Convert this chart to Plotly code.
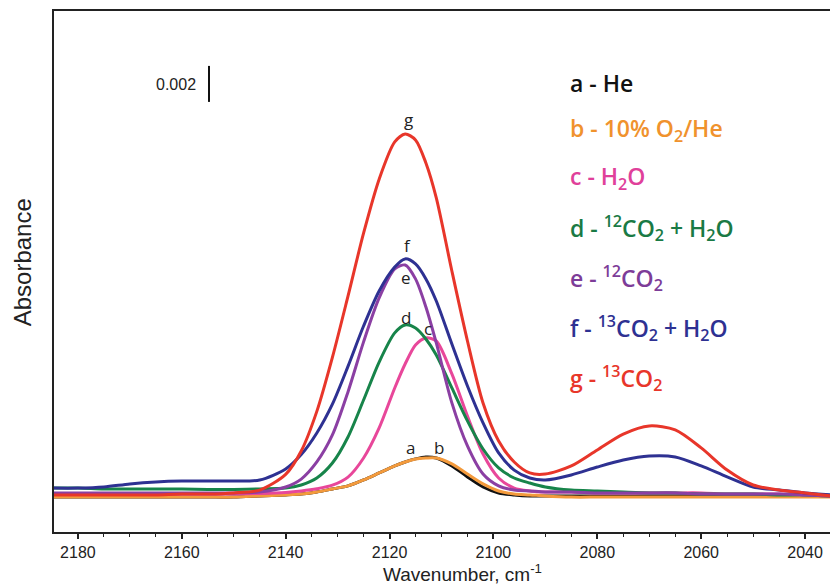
import plotly.graph_objects as go

# Wavenumber grid (cm^-1)
wavenumber = [2185, 2180, 2175, 2170, 2165, 2160, 2155, 2150, 2145, 2140, 2137, 2134, 2131,
              2128, 2125, 2122, 2119, 2117, 2115, 2113, 2111, 2108, 2105, 2102, 2099, 2096,
              2093, 2090, 2085, 2080, 2075, 2070, 2065, 2060, 2055, 2050, 2045, 2040, 2035]

# Absorbance values in milli-absorbance units (0.002 = 2.0)
a_he = [-0.06, -0.06, -0.06, -0.06, -0.06, -0.06, -0.06, -0.06, 0.0, 0.06, 0.11, 0.22, 0.39,
        0.56, 0.89, 1.28, 1.67, 1.89, 2.06, 2.17, 2.11, 1.67, 1.06, 0.5, 0.17, 0.06,
        0.0, 0.0, 0.0, 0.0, 0.0, 0.0, 0.0, 0.0, 0.0, 0.0, 0.0, 0.0, 0.0]
b_o2 = [-0.06, -0.06, -0.06, -0.06, -0.06, -0.06, -0.06, -0.06, 0.0, 0.06, 0.11, 0.22, 0.39,
        0.56, 0.89, 1.28, 1.67, 1.89, 2.06, 2.11, 2.11, 1.78, 1.22, 0.67, 0.28, 0.11,
        0.06, 0.0, -0.06, -0.06, -0.06, -0.06, -0.06, -0.06, -0.06, -0.06, -0.06, -0.06, -0.06]
c_h2o = [0.11, 0.11, 0.11, 0.11, 0.11, 0.11, 0.11, 0.11, 0.14, 0.2, 0.28, 0.4, 0.6,
         1.05, 2.11, 3.78, 6.0, 7.33, 8.39, 8.78, 8.61, 6.78, 4.44, 2.33, 1.0, 0.44,
         0.28, 0.22, 0.22, 0.17, 0.17, 0.17, 0.17, 0.17, 0.11, 0.11, 0.11, 0.06, 0.0]
d_12co2_h2o = [0.44, 0.44, 0.39, 0.39, 0.39, 0.39, 0.36, 0.36, 0.39, 0.44, 0.61, 1.0, 1.83,
               3.28, 5.33, 7.44, 9.06, 9.5, 9.33, 8.72, 7.83, 6.0, 4.17, 2.61, 1.56, 1.0,
               0.72, 0.5, 0.33, 0.28, 0.22, 0.17, 0.17, 0.11, 0.11, 0.11, 0.06, 0.06, 0.0]
e_12co2 = [0.17, 0.17, 0.17, 0.17, 0.17, 0.17, 0.17, 0.17, 0.22, 0.5, 0.94, 1.89, 3.39,
           5.78, 8.56, 11.0, 12.61, 12.83, 12.06, 10.5, 8.5, 5.17, 2.78, 1.22, 0.56, 0.33,
           0.28, 0.22, 0.22, 0.17, 0.17, 0.17, 0.17, 0.11, 0.11, 0.11, 0.11, 0.06, 0.0]
f_13co2_h2o = [0.44, 0.44, 0.5, 0.67, 0.78, 0.83, 0.83, 0.83, 0.89, 1.5, 2.3, 3.5, 5.1,
               7.2, 9.44, 11.39, 12.72, 13.17, 12.89, 12.06, 10.83, 8.44, 6.11, 4.06, 2.39, 1.44,
               1.0, 0.89, 1.17, 1.61, 2.0, 2.22, 2.17, 1.67, 1.06, 0.5, 0.33, 0.17, 0.06]
g_13co2 = [0.06, 0.06, 0.06, 0.06, 0.06, 0.11, 0.11, 0.17, 0.33, 1.2, 2.5, 4.7, 7.7,
           11.1, 14.6, 17.6, 19.67, 20.11, 19.78, 18.5, 16.56, 12.5, 8.61, 5.17, 3.06, 1.89,
           1.28, 1.22, 1.67, 2.56, 3.44, 3.89, 3.67, 2.67, 1.44, 0.61, 0.33, 0.17, 0.0]

series = [
    ("a", a_he, "#111111"),
    ("b", b_o2, "#F39A3C"),
    ("c", c_h2o, "#E8479A"),
    ("d", d_12co2_h2o, "#17844A"),
    ("e", e_12co2, "#8B3FA3"),
    ("f", f_13co2_h2o, "#2E3192"),
    ("g", g_13co2, "#E8362A"),
]

legend_texts = [
    ("a - He", "#111111"),
    ("b - 10% O<sub>2</sub>/He", "#F0922D"),
    ("c - H<sub>2</sub>O", "#E0409A"),
    ("d - <sup>12</sup>CO<sub>2</sub> + H<sub>2</sub>O", "#1A7A45"),
    ("e - <sup>12</sup>CO<sub>2</sub>", "#7D3C98"),
    ("f - <sup>13</sup>CO<sub>2</sub> + H<sub>2</sub>O", "#2E3192"),
    ("g - <sup>13</sup>CO<sub>2</sub>", "#E8362A"),
]

tick_vals = [2180, 2160, 2140, 2120, 2100, 2080, 2060, 2040]

fig = go.Figure()
for name, vals, col in series:
    fig.add_trace(go.Scatter(x=wavenumber, y=vals, mode="lines", name=name,
                             line=dict(color=col, width=3, shape="spline", smoothing=0.8),
                             showlegend=False, hoverinfo="skip"))

# curve letter labels
curve_labels = [("g", 2116.3, 20.9), ("f", 2116.5, 13.94), ("e", 2116.8, 12.11),
                ("d", 2116.8, 9.94), ("c", 2112.6, 9.33), ("a", 2115.9, 2.72), ("b", 2110.5, 2.72)]
for t, x, y in curve_labels:
    fig.add_annotation(x=x, y=y, text=t, showarrow=False, xref="x", yref="y",
                       font=dict(family="Open Sans", size=17, color="#222222"))

# legend texts
leg_y = [0.862, 0.772, 0.681, 0.583, 0.4875, 0.3916, 0.2956]
for (txt, col), yy in zip(legend_texts, leg_y):
    fig.add_annotation(x=0.663, y=yy, xref="paper", yref="paper", text=txt,
                       showarrow=False, xanchor="left", yanchor="middle",
                       font=dict(family="Open Sans", size=23, color=col, weight=600))

# scale bar 0.002
fig.add_shape(type="line", xref="x", yref="y", x0=2154.76, x1=2154.76, y0=21.89, y1=23.89,
              line=dict(color="#111111", width=2))
fig.add_annotation(x=2156.9, y=22.83, xref="x", yref="y", text="0.002", showarrow=False,
                   xanchor="right", yanchor="middle",
                   font=dict(family="Liberation Sans", size=16, color="#222222"))

# axis titles
fig.add_annotation(x=0.526, y=-0.079, xref="paper", yref="paper",
                   text="Wavenumber, cm<sup>-1</sup>", showarrow=False,
                   xanchor="center", yanchor="middle",
                   font=dict(family="Liberation Sans", size=19, color="#222222"))
fig.add_annotation(x=-0.041, y=0.518, xref="paper", yref="paper", text="Absorbance",
                   textangle=-90, showarrow=False, xanchor="center", yanchor="middle",
                   font=dict(family="Liberation Sans", size=24, color="#222222"))

fig.update_layout(
    width=830, height=586,
    margin=dict(l=54, r=0, t=11, b=54, autoexpand=False),
    paper_bgcolor="white", plot_bgcolor="white",
    font=dict(family="Liberation Sans", color="#222222"),
)
fig.update_xaxes(range=[2184.6, 2035.2], tickvals=tick_vals, automargin=False,
                 ticks="outside", ticklen=5, tickwidth=1.5, tickcolor="#222222",
                 minor=dict(dtick=5, ticks="outside", ticklen=3, tickcolor="#222222", tickwidth=1),
                 showline=True, linecolor="#222222", linewidth=2, mirror=True,
                 showgrid=False, zeroline=False,
                 tickfont=dict(family="Liberation Sans", size=16, color="#222222"))
fig.update_yaxes(range=[-2.0, 26.94], showticklabels=False, ticks="", automargin=False,
                 showline=True, linecolor="#222222", linewidth=2,
                 showgrid=False, zeroline=False)

fig.write_html("out.html", config={"displayModeBar": False},
               post_script="document.body.style.margin='0px';")
